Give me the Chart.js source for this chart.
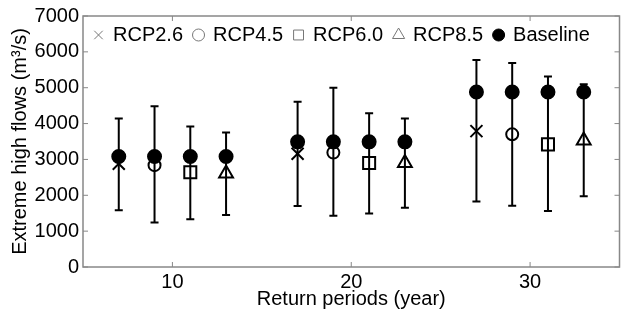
<!DOCTYPE html>
<html>
<head>
<meta charset="utf-8">
<script src="https://cdn.jsdelivr.net/npm/chart.js@4/dist/chart.umd.min.js"></script>
<style>
  html, body { margin: 0; padding: 0; background: #fff; overflow: hidden; }
  canvas { display: block; }
</style>
</head>
<body>
<canvas id="chart" width="630" height="314"></canvas>
<script>
/* Datos */
const xTicks = [10, 20, 30];
const yTicks = [0, 1000, 2000, 3000, 4000, 5000, 6000, 7000];

const xRcp26 = [7, 17, 27];
const xRcp45 = [9, 19, 29];
const xRcp60 = [11, 21, 31];
const xRcp85 = [13, 23, 33];
const xBaseline = [7, 9, 11, 13, 17, 19, 21, 23, 27, 29, 31, 33];

const rcp26 = [2880, 3160, 3790];
const rcp45 = [2840, 3190, 3700];
const rcp60 = [2640, 2900, 3420];
const rcp85 = [2610, 2900, 3530];
const baseline = [3080, 3080, 3080, 3080, 3490, 3490, 3490, 3490, 4880, 4880, 4880, 4880];

const rcp26Hi = [4140, 4610, 5770];
const rcp45Hi = [4480, 5000, 5690];
const rcp60Hi = [3920, 4290, 5310];
const rcp85Hi = [3750, 4140, 5100];
const rcp26Lo = [1580, 1700, 1830];
const rcp45Lo = [1240, 1430, 1710];
const rcp60Lo = [1330, 1490, 1560];
const rcp85Lo = [1450, 1650, 1970];

const FONT = "'Liberation Sans', Arial, sans-serif";
const pts = (xs, ys) => xs.map((x, i) => ({ x, y: ys[i] }));

/* Barras de error */
const errorBars = {
  id: 'errorBars',
  beforeDatasetsDraw(chart) {
    const { ctx, scales: { x, y } } = chart;
    ctx.save();
    ctx.strokeStyle = '#000';
    ctx.lineWidth = 2;
    chart.data.datasets.forEach(ds => {
      if (!ds.errHi) return;
      ds.data.forEach((p, i) => {
        const px = x.getPixelForValue(p.x);
        const top = y.getPixelForValue(ds.errHi[i]);
        const bot = y.getPixelForValue(ds.errLo[i]);
        ctx.beginPath();
        ctx.moveTo(px, top); ctx.lineTo(px, bot);
        ctx.moveTo(px - 4, top); ctx.lineTo(px + 4, top);
        ctx.moveTo(px - 4, bot); ctx.lineTo(px + 4, bot);
        ctx.stroke();
      });
    });
    ctx.restore();
  }
};

/* Marco con ticks hacia adentro */
const frame = {
  id: 'frame',
  afterDraw(chart) {
    const { ctx, chartArea: a, scales: { x, y } } = chart;
    ctx.save();
    ctx.strokeStyle = '#888';
    ctx.lineWidth = 1.5;
    ctx.strokeRect(a.left, a.top, a.right - a.left, a.bottom - a.top);
    ctx.lineWidth = 1;
    ctx.beginPath();
    xTicks.forEach(v => {
      const px = x.getPixelForValue(v);
      ctx.moveTo(px, a.bottom); ctx.lineTo(px, a.bottom - 5);
      ctx.moveTo(px, a.top); ctx.lineTo(px, a.top + 5);
    });
    yTicks.forEach(v => {
      const py = y.getPixelForValue(v);
      ctx.moveTo(a.left, py); ctx.lineTo(a.left + 5, py);
      ctx.moveTo(a.right, py); ctx.lineTo(a.right - 5, py);
    });
    ctx.stroke();
    ctx.restore();
  }
};

/* Leyenda en una fila dentro del área */
const insideLegend = {
  id: 'insideLegend',
  afterDraw(chart) {
    const { ctx, chartArea: a } = chart;
    ctx.save();
    ctx.font = '20px ' + FONT;
    ctx.textBaseline = 'middle';
    ctx.textAlign = 'left';
    const cy = a.top + 19;
    let cx = a.left + 11;
    chart.data.datasets.forEach(ds => {
      const filled = ds.backgroundColor !== 'transparent';
      ctx.fillStyle = filled ? '#000' : 'rgba(0,0,0,0)';
      ctx.strokeStyle = filled ? '#000' : '#777';
      ctx.lineWidth = 1;
      Chart.helpers.drawPoint(ctx, { pointStyle: ds.pointStyle, radius: ds.legendRadius, borderWidth: 1, rotation: 0 }, cx + 4.5, cy);
      ctx.fillStyle = '#000';
      ctx.fillText(ds.label, cx + 19, cy);
      cx += 19 + ctx.measureText(ds.label).width + 11;
    });
    ctx.restore();
  }
};

const common = { showLine: false, borderColor: '#000', backgroundColor: 'transparent', borderWidth: 2 };

new Chart(document.getElementById('chart').getContext('2d'), {
  type: 'scatter',
  data: {
    datasets: [
      { ...common, label: 'RCP2.6', data: pts(xRcp26, rcp26), errHi: rcp26Hi, errLo: rcp26Lo, pointStyle: 'crossRot', pointRadius: 8.5, legendRadius: 6 },
      { ...common, label: 'RCP4.5', data: pts(xRcp45, rcp45), errHi: rcp45Hi, errLo: rcp45Lo, pointStyle: 'circle', pointRadius: 6, legendRadius: 6 },
      { ...common, label: 'RCP6.0', data: pts(xRcp60, rcp60), errHi: rcp60Hi, errLo: rcp60Lo, pointStyle: 'rect', pointRadius: 8.5, legendRadius: 7 },
      { ...common, label: 'RCP8.5', data: pts(xRcp85, rcp85), errHi: rcp85Hi, errLo: rcp85Lo, pointStyle: 'triangle', pointRadius: 8, legendRadius: 7 },
      { ...common, label: 'Baseline', data: pts(xBaseline, baseline), pointStyle: 'circle', pointRadius: 6.5, legendRadius: 6, backgroundColor: '#000', order: -1 }
    ]
  },
  options: {
    responsive: false,
    animation: false,
    layout: { padding: { top: 14, right: 2.5, left: 0, bottom: 0 } },
    plugins: {
      tooltip: { enabled: false },
      legend: { display: false }
    },
    scales: {
      x: {
        type: 'linear',
        min: 5,
        max: 35,
        afterBuildTicks: s => { s.ticks = xTicks.map(v => ({ value: v })); },
        afterFit: s => { s.height = 47; },
        grid: { display: false, drawTicks: false },
        border: { display: false },
        ticks: { color: '#000', padding: 3, font: { family: FONT, size: 20 }, callback: v => String(v) },
        title: { display: true, text: 'Return periods (year)', color: '#000', padding: { top: 0, bottom: 3 }, font: { family: FONT, size: 20 } }
      },
      y: {
        min: 0,
        max: 7000,
        afterBuildTicks: s => { s.ticks = yTicks.map(v => ({ value: v })); },
        afterFit: s => { s.width = 83; },
        grid: { display: false, drawTicks: false },
        border: { display: false },
        ticks: { color: '#000', padding: 4, font: { family: FONT, size: 20 }, callback: v => String(v) },
        title: { display: true, text: 'Extreme high flows (m³/s)', color: '#000', padding: { top: 8, bottom: 0 }, font: { family: FONT, size: 20 } }
      }
    }
  },
  plugins: [errorBars, frame, insideLegend]
});
</script>
</body>
</html>
